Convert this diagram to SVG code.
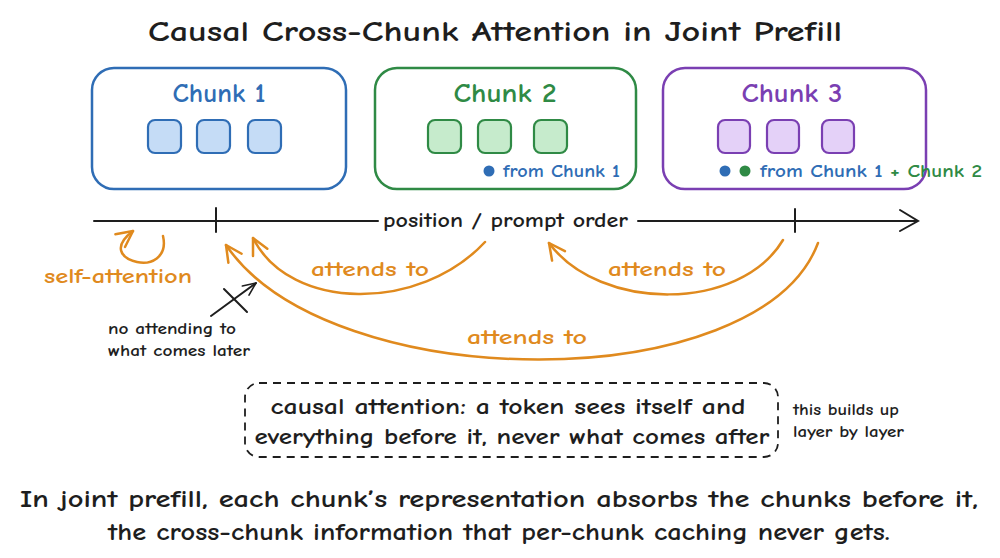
<svg xmlns="http://www.w3.org/2000/svg" width="1000" height="558" viewBox="0 0 1000 558">
<style>
  text { font-family: "Comic Neue", "Liberation Sans", "DejaVu Sans", sans-serif; font-weight: 700; }
  .title { font-size: 29px; fill: #1e1e1e; }
  .lbl { font-size: 26px; text-anchor: middle; }
  .box { fill: #ffffff; stroke-width: 2.5; }
  .tok { stroke-width: 2.2; }
  .blue { fill: #2f6db5; } .green { fill: #2f8a45; } .purple { fill: #7a3fb2; }
  .orange { fill: #e08a1e; font-size: 20px; }
  .small { font-size: 15px; fill: #1e1e1e; }
  .arc { fill: none; stroke: #e08a1e; stroke-width: 2.5; stroke-linecap: round; }
  .axis { fill: none; stroke: #1e1e1e; stroke-width: 2; stroke-linecap: round; }
  .mid { font-size: 22px; fill: #1e1e1e; text-anchor: middle; }
  .bottom { font-size: 25px; fill: #1e1e1e; text-anchor: middle; }
</style>
<defs>
  <marker id="arrO" viewBox="0 0 20 20" refX="18" refY="10" markerWidth="20" markerHeight="20" markerUnits="userSpaceOnUse" orient="auto">
    <path d="M2,2 L18,10 L2,18" fill="none" stroke="#e08a1e" stroke-width="2.5" stroke-linecap="round" stroke-linejoin="round"/>
  </marker>
  <marker id="arrK" viewBox="0 0 20 20" refX="18" refY="10" markerWidth="16" markerHeight="16" markerUnits="userSpaceOnUse" orient="auto">
    <path d="M2,3 L18,10 L2,17" fill="none" stroke="#1e1e1e" stroke-width="2" stroke-linecap="round" stroke-linejoin="round"/>
  </marker>
</defs>

<rect width="1000" height="558" fill="#ffffff"/>

<text class="title" x="495" y="41" text-anchor="middle" textLength="694" lengthAdjust="spacingAndGlyphs">Causal Cross-Chunk Attention in Joint Prefill</text>

<g id="chunk1">
  <rect class="box" x="92" y="68" width="254" height="121" rx="22" stroke="#2f6db5"/>
  <text class="lbl blue" x="219" y="102" textLength="93" lengthAdjust="spacingAndGlyphs">Chunk 1</text>
  <rect class="tok" x="148" y="120" width="33" height="33" rx="7" fill="#c5dcf6" stroke="#2f6db5"/>
  <rect class="tok" x="197" y="120" width="33" height="33" rx="7" fill="#c5dcf6" stroke="#2f6db5"/>
  <rect class="tok" x="248" y="120" width="33" height="33" rx="7" fill="#c5dcf6" stroke="#2f6db5"/>
</g>

<g id="chunk2">
  <rect class="box" x="375" y="68" width="261" height="121" rx="22" stroke="#2f8a45"/>
  <text class="lbl green" x="505" y="102" textLength="103" lengthAdjust="spacingAndGlyphs">Chunk 2</text>
  <rect class="tok" x="428" y="120" width="33" height="33" rx="7" fill="#c6ebcc" stroke="#2f8a45"/>
  <rect class="tok" x="478" y="120" width="33" height="33" rx="7" fill="#c6ebcc" stroke="#2f8a45"/>
  <rect class="tok" x="534" y="120" width="33" height="33" rx="7" fill="#c6ebcc" stroke="#2f8a45"/>
  <circle cx="489" cy="171" r="5.5" fill="#2f6db5"/>
  <text class="blue" x="503" y="177" font-size="17" textLength="117" lengthAdjust="spacingAndGlyphs">from Chunk 1</text>
</g>

<g id="chunk3">
  <rect class="box" x="663" y="68" width="263" height="121" rx="22" stroke="#7a3fb2"/>
  <text class="lbl purple" x="792" y="102" textLength="101" lengthAdjust="spacingAndGlyphs">Chunk 3</text>
  <rect class="tok" x="718" y="120" width="32" height="33" rx="7" fill="#e4d1f8" stroke="#7a3fb2"/>
  <rect class="tok" x="767" y="120" width="32" height="33" rx="7" fill="#e4d1f8" stroke="#7a3fb2"/>
  <rect class="tok" x="822" y="120" width="32" height="33" rx="7" fill="#e4d1f8" stroke="#7a3fb2"/>
  <circle cx="725" cy="171" r="5.5" fill="#2f6db5"/>
  <circle cx="745" cy="171" r="5.5" fill="#2f8a45"/>
  <text x="760" y="177" font-size="17" textLength="222" lengthAdjust="spacingAndGlyphs"><tspan class="blue">from Chunk 1 </tspan><tspan class="green" font-size="18">+</tspan><tspan class="green"> Chunk 2</tspan></text>
</g>

<g id="axis">
  <path class="axis" d="M94,221 L378,221"/>
  <path class="axis" d="M638,221 L917,221"/>
  <path class="axis" d="M900,210 L918,221 L900,231"/>
  <path class="axis" d="M216,208 L216,232"/>
  <path class="axis" d="M795,209 L795,232"/>
  <text x="383" y="227" font-size="20" fill="#1e1e1e" textLength="245" lengthAdjust="spacingAndGlyphs">position / prompt order</text>
</g>

<g id="connectors">
  <path class="arc" d="M163,236 C168,258 150,265 137,262 C120,258 113,246 133,231" marker-end="url(#arrO)"/>
  <path class="arc" d="M485,242 C420,312 290,312 253,238" marker-end="url(#arrO)"/>
  <path class="arc" d="M783,240 C740,312 600,312 549,243" marker-end="url(#arrO)"/>
  <path class="arc" d="M818,243 C760,398 330,398 226,245" marker-end="url(#arrO)"/>
  <path class="axis" d="M211,316 L256,283" marker-end="url(#arrK)"/>
  <path class="axis" d="M224,289 L247,312"/>
</g>

<g id="labels">
  <text class="orange" x="44" y="283" textLength="148" lengthAdjust="spacingAndGlyphs">self-attention</text>
  <text class="orange" x="311" y="276" textLength="118" lengthAdjust="spacingAndGlyphs">attends to</text>
  <text class="orange" x="608" y="276" textLength="118" lengthAdjust="spacingAndGlyphs">attends to</text>
  <text class="orange" x="467" y="344" textLength="120" lengthAdjust="spacingAndGlyphs">attends to</text>
  <text class="small" x="108" y="334" textLength="128" lengthAdjust="spacingAndGlyphs">no attending to</text>
  <text class="small" x="108" y="356" textLength="142" lengthAdjust="spacingAndGlyphs">what comes later</text>
</g>

<g id="note">
  <rect x="245" y="383" width="533" height="74" rx="14" fill="none" stroke="#1e1e1e" stroke-width="1.8" stroke-dasharray="8 6"/>
  <text class="mid" x="508" y="414" textLength="475" lengthAdjust="spacingAndGlyphs">causal attention: a token sees itself and</text>
  <text class="mid" x="512" y="444" textLength="515" lengthAdjust="spacingAndGlyphs">everything before it, never what comes after</text>
  <text class="small" x="793" y="415" textLength="106" lengthAdjust="spacingAndGlyphs">this builds up</text>
  <text class="small" x="793" y="437" textLength="111" lengthAdjust="spacingAndGlyphs">layer by layer</text>
</g>

<g id="footer">
  <text class="bottom" x="499" y="507" textLength="958" lengthAdjust="spacingAndGlyphs">In joint prefill, each chunk’s representation absorbs the chunks before it,</text>
  <text class="bottom" x="499" y="540" textLength="782" lengthAdjust="spacingAndGlyphs">the cross-chunk information that per-chunk caching never gets.</text>
</g>
</svg>
